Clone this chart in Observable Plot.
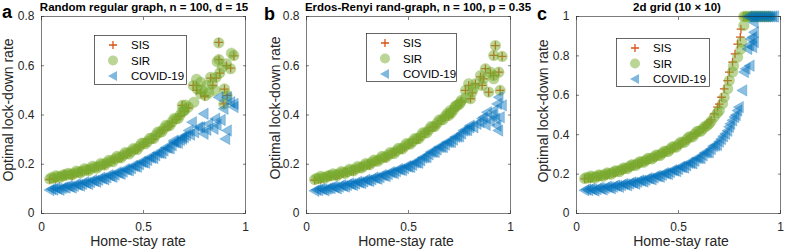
<!DOCTYPE html>
<html><head><meta charset="utf-8">
<script src="https://cdn.jsdelivr.net/npm/d3@7"></script>
<script src="https://cdn.jsdelivr.net/npm/@observablehq/plot@0.6"></script>
<style>
body{margin:0;background:#fff;}
#root{position:relative;width:789px;height:252px;overflow:hidden;background:#fff;}
#root > svg{position:absolute;top:0;}
#overlay{position:absolute;left:0;top:0;pointer-events:none;}
</style></head>
<body><div id="root"></div>
<script>
// ---------------- data ----------------
const xTicks = [0, 0.5, 1];
const yTicksAB = [0, 0.2, 0.4, 0.6, 0.8];
const yTicksC = [0, 0.2, 0.4, 0.6, 0.8, 1];
const panelLetters = ["a", "b", "c"];
const panelTitles = ["Random regular graph, n = 100, d = 15", "Erdos-Renyi rand-graph, n = 100, p = 0.35", "2d grid (10 \u00d7 10)"];
const seriesNames = ["SIS", "SIR", "COVID-19"];
const xLabel = "Home-stay rate";
const yLabel = "Optimal lock-down rate";

const aSIS = [[0.04,.138],[0.06,.142],[0.08,.147],[0.10,.151],[0.12,.154],[0.14,.158],[0.16,.162],[0.18,.166],[0.20,.171],[0.22,.176],[0.24,.181],[0.26,.186],[0.28,.191],[0.30,.197],[0.32,.204],[0.34,.211],[0.36,.219],[0.38,.226],[0.40,.234],[0.42,.242],[0.44,.250],[0.46,.259],[0.48,.269],[0.50,.280],[0.52,.290],[0.54,.301],[0.56,.314],[0.58,.326],[0.60,.340],[0.62,.352],[0.64,.368],[0.66,.381],[0.68,.396],[0.70,.414],[0.72,.428],
[0.07,.140],[0.11,.157],[0.15,.154],[0.19,.172],[0.23,.175],[0.27,.192],[0.31,.196],[0.35,.218],[0.39,.226],[0.43,.249],[0.47,.260],[0.51,.288],[0.55,.303],[0.59,.336],[0.63,.356],[0.67,.392],
[0.69,.439],[0.71,.43],[0.744,.52],[0.76,.52],[0.76,.50],[0.78,.49],[0.80,.475],[0.80,.48],[0.829,.55],[0.84,.52],[0.856,.55],[0.869,.695],[0.87,.625],[0.874,.57],[0.894,.445],[0.91,.48],[0.897,.505],[0.907,.60],[0.927,.59],[0.943,.64]];
const aSIR = [[0.04,.140],[0.05,.146],[0.06,.143],[0.08,.150],[0.10,.152],[0.11,.158],[0.12,.155],[0.14,.160],[0.16,.163],[0.18,.168],[0.20,.172],[0.22,.178],[0.24,.182],[0.26,.188],[0.28,.192],[0.30,.200],[0.32,.206],[0.34,.213],[0.36,.222],[0.38,.228],[0.40,.236],[0.42,.245],[0.44,.252],[0.46,.262],[0.48,.272],[0.50,.285],[0.52,.292],[0.54,.305],[0.56,.318],[0.58,.330],[0.60,.345],[0.62,.355],[0.64,.372],[0.66,.385],[0.68,.400],[0.70,.418],[0.72,.432],
[0.07,.153],[0.09,.146],[0.13,.163],[0.15,.157],[0.17,.172],[0.19,.165],[0.21,.182],[0.23,.174],[0.25,.192],[0.27,.184],[0.29,.203],[0.31,.197],[0.33,.216],[0.35,.210],[0.37,.232],[0.39,.226],[0.41,.248],[0.43,.242],[0.45,.264],[0.47,.260],[0.49,.285],[0.51,.283],[0.53,.305],[0.55,.305],[0.57,.331],[0.59,.332],[0.61,.358],[0.63,.358],[0.65,.386],[0.67,.386],[0.69,.415],
[0.69,.439],[0.706,.44],[0.698,.418],[0.747,.452],[0.744,.52],[0.76,.545],[0.763,.506],[0.78,.533],[0.78,.486],[0.788,.50],[0.804,.479],[0.809,.52],[0.82,.49],[0.829,.553],[0.837,.527],[0.85,.50],[0.856,.553],[0.861,.617],[0.869,.693],[0.87,.625],[0.874,.571],[0.886,.594],[0.894,.445],[0.897,.506],[0.907,.608],[0.91,.479],[0.927,.588],[0.931,.651],[0.943,.642]];
const aCOVID = [[0.04,.095],[0.05,.099],[0.06,.097],[0.08,.100],[0.10,.103],[0.11,.106],[0.12,.105],[0.14,.109],[0.16,.112],[0.18,.116],[0.20,.120],[0.22,.124],[0.24,.128],[0.26,.132],[0.28,.137],[0.30,.142],[0.32,.147],[0.34,.152],[0.36,.158],[0.38,.164],[0.40,.170],[0.42,.177],[0.44,.184],[0.46,.192],[0.48,.200],[0.50,.208],[0.52,.217],[0.54,.226],[0.56,.236],[0.58,.246],[0.60,.256],[0.62,.266],[0.64,.277],[0.66,.288],[0.68,.298],[0.70,.310],
[0.07,.104],[0.09,.096],[0.13,.112],[0.15,.105],[0.17,.119],[0.19,.113],[0.21,.127],[0.23,.120],[0.25,.135],[0.27,.129],[0.29,.145],[0.31,.139],[0.33,.156],[0.35,.149],[0.37,.167],[0.39,.161],[0.41,.180],[0.43,.175],[0.45,.194],[0.47,.190],[0.49,.210],[0.51,.206],[0.53,.228],[0.55,.225],[0.57,.247],[0.59,.245],[0.61,.268],[0.63,.265],[0.65,.290],[0.67,.287],[0.69,.310],[0.71,.318],
[0.649,.296],[0.69,.303],[0.722,.337],[0.73,.32],[0.739,.371],[0.75,.33],[0.77,.35],[0.78,.35],[0.796,.405],[0.796,.324],[0.81,.34],[0.82,.364],[0.845,.344],[0.853,.385],[0.86,.36],[0.869,.472],[0.88,.38],[0.894,.425],[0.902,.303],[0.91,.472],[0.91,.337],[0.927,.452],[0.943,.445],[0.943,.432]];

const bSIS = [[0.04,.135],[0.06,.139],[0.08,.143],[0.10,.147],[0.12,.150],[0.14,.154],[0.16,.158],[0.18,.163],[0.20,.167],[0.22,.173],[0.24,.178],[0.26,.184],[0.28,.190],[0.30,.197],[0.32,.204],[0.34,.211],[0.36,.218],[0.38,.226],[0.40,.234],[0.42,.242],[0.44,.251],[0.46,.260],[0.48,.269],[0.50,.279],[0.52,.289],[0.54,.300],[0.56,.312],[0.58,.324],[0.60,.337],[0.62,.349],[0.64,.363],[0.66,.377],[0.68,.392],[0.70,.402],[0.72,.417],[0.74,.437],[0.76,.457],
[0.07,.138],[0.11,.155],[0.15,.153],[0.19,.169],[0.23,.172],[0.27,.190],[0.31,.196],[0.35,.217],[0.39,.226],[0.43,.250],[0.47,.261],[0.51,.287],[0.55,.302],[0.59,.334],[0.63,.354],[0.67,.388],[0.71,.407],
[0.697,.395],[0.705,.415],[0.73,.43],[0.755,.45],[0.779,.50],[0.795,.52],[0.804,.466],[0.812,.49],[0.828,.527],[0.853,.555],[0.861,.52],[0.868,.547],[0.877,.588],[0.893,.493],[0.902,.57],[0.917,.56],[0.918,.642],[0.926,.682],[0.943,.574],[0.949,.50],[0.959,.638]];
const bSIR = [[0.04,.138],[0.05,.143],[0.06,.142],[0.08,.146],[0.10,.150],[0.11,.154],[0.12,.153],[0.14,.157],[0.16,.161],[0.18,.166],[0.20,.170],[0.22,.176],[0.24,.181],[0.26,.187],[0.28,.193],[0.30,.200],[0.32,.207],[0.34,.214],[0.36,.221],[0.38,.229],[0.40,.237],[0.42,.245],[0.44,.254],[0.46,.263],[0.48,.272],[0.50,.282],[0.52,.292],[0.54,.303],[0.56,.315],[0.58,.327],[0.60,.340],[0.62,.352],[0.64,.366],[0.66,.380],[0.68,.395],[0.70,.405],[0.72,.420],[0.74,.440],[0.76,.460],
[0.07,.151],[0.09,.144],[0.13,.161],[0.15,.154],[0.17,.170],[0.19,.163],[0.21,.180],[0.23,.173],[0.25,.191],[0.27,.185],[0.29,.203],[0.31,.198],[0.33,.217],[0.35,.212],[0.37,.232],[0.39,.228],[0.41,.248],[0.43,.244],[0.45,.265],[0.47,.262],[0.49,.284],[0.51,.282],[0.53,.304],[0.55,.304],[0.57,.328],[0.59,.328],[0.61,.353],[0.63,.354],[0.65,.380],[0.67,.382],[0.69,.406],[0.71,.408],[0.73,.437],[0.75,.444],
[0.697,.398],[0.705,.418],[0.73,.432],[0.755,.452],[0.78,.47],[0.779,.50],[0.795,.527],[0.804,.466],[0.812,.493],[0.82,.51],[0.828,.527],[0.853,.56],[0.861,.52],[0.868,.547],[0.877,.588],[0.893,.493],[0.902,.574],[0.917,.56],[0.918,.547],[0.918,.642],[0.926,.682],[0.943,.574],[0.949,.50],[0.959,.638]];
const bCOVID = [[0.04,.092],[0.05,.096],[0.06,.095],[0.08,.098],[0.10,.100],[0.11,.103],[0.12,.103],[0.14,.106],[0.16,.109],[0.18,.112],[0.20,.116],[0.22,.119],[0.24,.122],[0.26,.126],[0.28,.130],[0.30,.134],[0.32,.139],[0.34,.143],[0.36,.148],[0.38,.154],[0.40,.160],[0.42,.166],[0.44,.172],[0.46,.178],[0.48,.184],[0.50,.190],[0.52,.198],[0.54,.207],[0.56,.216],[0.58,.228],[0.60,.240],[0.62,.250],[0.64,.260],[0.66,.270],[0.68,.280],[0.70,.290],[0.72,.300],[0.74,.312],[0.76,.325],[0.78,.338],[0.80,.350],
[0.07,.101],[0.09,.094],[0.13,.109],[0.15,.102],[0.17,.115],[0.19,.109],[0.21,.122],[0.23,.116],[0.25,.129],[0.27,.124],[0.29,.137],[0.31,.132],[0.33,.146],[0.35,.141],[0.37,.156],[0.39,.152],[0.41,.168],[0.43,.164],[0.45,.180],[0.47,.176],[0.49,.192],[0.51,.189],[0.53,.207],[0.55,.206],[0.57,.227],[0.59,.229],[0.61,.250],[0.63,.250],[0.65,.270],[0.67,.270],[0.69,.290],[0.71,.290],[0.73,.311],[0.75,.313],[0.77,.337],[0.79,.339],
[0.802,.357],[0.82,.35],[0.835,.364],[0.85,.37],[0.861,.385],[0.868,.391],[0.886,.411],[0.90,.378],[0.918,.418],[0.926,.385],[0.933,.357],[0.935,.445],[0.941,.337],[0.943,.472],[0.949,.391],[0.959,.439],[0.88,.36],[0.91,.40]];

const cSIS = [[0.04,.176],[0.06,.179],[0.08,.183],[0.10,.187],[0.12,.191],[0.14,.196],[0.16,.201],[0.18,.207],[0.20,.213],[0.22,.220],[0.24,.228],[0.26,.236],[0.28,.244],[0.30,.252],[0.32,.260],[0.34,.268],[0.36,.277],[0.38,.285],[0.40,.294],[0.42,.304],[0.44,.314],[0.46,.325],[0.48,.336],[0.50,.348],[0.52,.361],[0.54,.374],[0.56,.388],[0.58,.402],[0.60,.416],[0.62,.432],[0.64,.452],[0.66,.475],[0.675,.506],[0.691,.54],[0.70,.555],[0.711,.59],[0.724,.633],[0.741,.675],[0.749,.718],[0.765,.768],[0.777,.81],[0.79,.86],[0.803,.895],[0.806,.936],
[0.07,.178],[0.11,.186],[0.15,.195],[0.19,.207],[0.23,.221],[0.27,.237],[0.31,.253],[0.35,.270],[0.39,.287],[0.43,.307],[0.47,.328],[0.51,.352],[0.55,.379],[0.59,.407],[0.63,.440],[0.65,.462],
[0.82,1],[0.83,1],[0.84,1],[0.85,1],[0.86,1],[0.87,1],[0.88,1],[0.89,1],[0.90,1],[0.91,1],[0.92,1],[0.93,1]];
const cSIR = [[0.04,.178],[0.05,.183],[0.06,.180],[0.08,.185],[0.10,.189],[0.12,.193],[0.14,.198],[0.16,.203],[0.18,.209],[0.20,.215],[0.22,.222],[0.24,.230],[0.26,.238],[0.28,.246],[0.30,.254],[0.32,.262],[0.34,.270],[0.36,.279],[0.38,.287],[0.40,.296],[0.42,.306],[0.44,.316],[0.46,.327],[0.48,.338],[0.50,.350],[0.52,.362],[0.54,.375],[0.56,.389],[0.58,.403],[0.60,.418],[0.62,.430],[0.64,.445],[0.65,.456],[0.66,.468],[0.675,.49],[0.69,.51],[0.70,.523],[0.716,.557],[0.724,.59],[0.741,.633],[0.749,.675],[0.765,.718],[0.77,.75],[0.79,.794],[0.806,.835],[0.81,.87],[0.82,.954],
[0.07,.190],[0.09,.180],[0.11,.196],[0.13,.189],[0.15,.206],[0.17,.199],[0.19,.217],[0.21,.212],[0.23,.231],[0.25,.228],[0.27,.247],[0.29,.244],[0.31,.263],[0.33,.260],[0.35,.280],[0.37,.277],[0.39,.297],[0.41,.295],[0.43,.316],[0.45,.315],[0.47,.338],[0.49,.337],[0.51,.362],[0.53,.362],[0.55,.388],[0.57,.389],[0.59,.416],[0.61,.418],[0.63,.443],
[0.82,1],[0.83,1],[0.84,1],[0.85,1],[0.86,1],[0.87,1],[0.88,1],[0.89,1],[0.90,1],[0.91,1],[0.92,1],[0.93,1],[0.94,1],[0.95,1]];
const cCOVID = [[0.04,.118],[0.05,.122],[0.06,.119],[0.08,.122],[0.10,.124],[0.12,.127],[0.14,.130],[0.16,.133],[0.18,.136],[0.20,.140],[0.22,.144],[0.24,.148],[0.26,.152],[0.28,.156],[0.30,.161],[0.32,.166],[0.34,.171],[0.36,.177],[0.38,.183],[0.40,.189],[0.42,.196],[0.44,.203],[0.46,.210],[0.48,.218],[0.50,.226],[0.52,.235],[0.54,.245],[0.56,.256],[0.58,.268],[0.60,.281],[0.62,.295],[0.64,.310],[0.66,.327],[0.68,.345],[0.70,.365],[0.71,.378],[0.72,.392],[0.73,.405],[0.741,.42],[0.749,.44],[0.755,.455],[0.765,.473],[0.775,.49],[0.782,.50],[0.79,.523],[0.797,.54],
[0.07,.126],[0.09,.116],[0.11,.130],[0.13,.122],[0.15,.136],[0.17,.128],[0.19,.142],[0.21,.135],[0.23,.150],[0.25,.143],[0.27,.158],[0.29,.151],[0.31,.168],[0.33,.162],[0.35,.179],[0.37,.173],[0.39,.191],[0.41,.186],[0.43,.205],[0.45,.200],[0.47,.220],[0.49,.215],[0.51,.237],[0.53,.233],[0.55,.257],[0.57,.255],[0.59,.281],[0.61,.281],[0.63,.309],[0.65,.311],[0.67,.342],[0.69,.348],
[0.814,.625],[0.822,.718],[0.83,.735],[0.85,.75],[0.839,.835],[0.847,.853],[0.855,.886],[0.863,.845],[0.863,.895],[0.871,.92],[0.871,.87],[0.87,.97],
[0.84,1],[0.85,1],[0.86,1],[0.87,1],[0.88,1],[0.89,1],[0.90,1],[0.91,1],[0.92,1],[0.93,1],[0.94,1],[0.95,1],[0.96,1],[0.97,1]];

// ---------------- style ----------------
const colSIS = "#D95319", colSIR = "#77AC30", colCOV = "#0072BD";
const FONT = "'Liberation Sans', Arial, Helvetica, sans-serif";
const plusSym = {draw(ctx, size){ const r = Math.sqrt(size/Math.PI); ctx.moveTo(-r,0); ctx.lineTo(r,0); ctx.moveTo(0,-r); ctx.lineTo(0,r); }};
const triLeft = {draw(ctx, size){ const r = Math.sqrt(size/Math.PI); ctx.moveTo(-r,0); ctx.lineTo(r*0.75,-r); ctx.lineTo(r*0.75,r); ctx.closePath(); }};

const panels = [
  {left:0,   ml:41, mr:18, mt:16, mb:39, ymax:0.8, yt:yTicksAB, data:[aSIS,aSIR,aCOVID]},
  {left:263, ml:43, mr:16, mt:16, mb:39, ymax:0.8, yt:yTicksAB, data:[bSIS,bSIR,bCOVID]},
  {left:526, ml:50, mr:9,  mt:16, mb:39, ymax:1.0, yt:yTicksC,  data:[cSIS,cSIR,cCOVID]}
];
const fmt = d => String(d);
const root = document.getElementById("root");

panels.forEach(p => {
  const [sis, sir, cov] = p.data;
  const chart = Plot.plot({
    width:263, height:252,
    marginLeft:p.ml, marginRight:p.mr, marginTop:p.mt, marginBottom:p.mb,
    x:{domain:[0,1]}, y:{domain:[0,p.ymax]},
    style:{fontFamily:FONT, fontSize:"12px", color:"#262626", background:"transparent", overflow:"visible"},
    marks:[
      Plot.dot(sis, {x:d=>d[0], y:d=>d[1], r:4.3, symbol:plusSym, stroke:colSIS, fill:"none", strokeWidth:1.3}),
      Plot.dot(sir, {x:d=>d[0], y:d=>d[1], r:5.3, symbol:"circle", fill:colSIR, fillOpacity:0.5, stroke:colSIR, strokeOpacity:0.35, strokeWidth:0.6}),
      Plot.dot(cov, {x:d=>d[0], y:d=>d[1], r:5.7, symbol:triLeft, fill:colCOV, fillOpacity:0.45, stroke:colCOV, strokeOpacity:0.45, strokeWidth:0.6}),
      Plot.frame({stroke:"#262626", strokeWidth:0.6}),
      Plot.axisX({ticks:xTicks, tickSize:-3, tickPadding:12, tickFormat:fmt, label:null, strokeWidth:0.6}),
      Plot.axisX({anchor:"top", ticks:xTicks, tickSize:-3, tickFormat:()=>"", label:null, strokeWidth:0.6}),
      Plot.axisY({ticks:p.yt, tickSize:-3, tickPadding:10, tickFormat:fmt, label:null, strokeWidth:0.6}),
      Plot.axisY({anchor:"right", ticks:p.yt, tickSize:-3, tickFormat:()=>"", label:null, strokeWidth:0.6})
    ]
  });
  chart.style.left = p.left + "px";
  root.appendChild(chart);
});

// ---------------- overlay: titles, labels, legends ----------------
const ns = "http://www.w3.org/2000/svg";
const ov = document.createElementNS(ns, "svg");
ov.setAttribute("id","overlay"); ov.setAttribute("width",789); ov.setAttribute("height",252);
root.appendChild(ov);
function txt(s, x, y, o={}){
  const t = document.createElementNS(ns,"text");
  t.textContent = s; t.setAttribute("x",x); t.setAttribute("y",y);
  t.setAttribute("font-family",FONT); t.setAttribute("font-size",o.size||12);
  if(o.bold) t.setAttribute("font-weight","bold");
  t.setAttribute("text-anchor",o.anchor||"start");
  t.setAttribute("fill",o.fill||"#000");
  if(o.rot) t.setAttribute("transform",`rotate(-90 ${x} ${y})`);
  ov.appendChild(t); return t;
}
const layout = [
  {title:[144,11], letter:[2,18], ylab:[13,110], xlab:[138,246], leg:[94,35,92,49]},
  {title:[418,11], letter:[264,19.5], ylab:[280,108], xlab:[406,246], leg:[366,33,90,48]},
  {title:[677,11], letter:[537,20], ylab:[548,111], xlab:[681,246], leg:[616,38,93,48]}
];
layout.forEach((L,i) => {
  txt(panelTitles[i], L.title[0], L.title[1], {bold:true, size:11.5, anchor:"middle"});
  txt(panelLetters[i], L.letter[0], L.letter[1], {bold:true, size:18});
  txt(yLabel, L.ylab[0], L.ylab[1], {size:14, anchor:"middle", rot:true, fill:"#262626"});
  txt(xLabel, L.xlab[0], L.xlab[1], {size:14, anchor:"middle", fill:"#262626"});
  const [lx,ly,lw,lh] = L.leg;
  const r = document.createElementNS(ns,"rect");
  r.setAttribute("x",lx+0.5); r.setAttribute("y",ly+0.5); r.setAttribute("width",lw); r.setAttribute("height",lh);
  r.setAttribute("fill","#fff"); r.setAttribute("stroke","#262626"); r.setAttribute("stroke-width",0.7);
  ov.appendChild(r);
  const mx = lx + 19, tx = lx + 37;
  seriesNames.forEach((s,k) => {
    const cy = ly + 10 + k*15.5;
    const pth = document.createElementNS(ns,"path");
    if(k===0){ pth.setAttribute("d",`M${mx-4},${cy}H${mx+4}M${mx},${cy-4}V${cy+4}`); pth.setAttribute("stroke",colSIS); pth.setAttribute("stroke-width",1.3); pth.setAttribute("fill","none"); }
    if(k===1){ pth.setAttribute("d",`M${mx+5},${cy}A5,5 0 1,1 ${mx-5},${cy}A5,5 0 1,1 ${mx+5},${cy}Z`); pth.setAttribute("fill",colSIR); pth.setAttribute("fill-opacity",0.5); }
    if(k===2){ pth.setAttribute("d",`M${mx-5},${cy}L${mx+4},${cy-5}L${mx+4},${cy+5}Z`); pth.setAttribute("fill",colCOV); pth.setAttribute("fill-opacity",0.5); }
    ov.appendChild(pth);
    txt(s, tx, cy+4, {size:11.5});
  });
});
</script></body></html>
